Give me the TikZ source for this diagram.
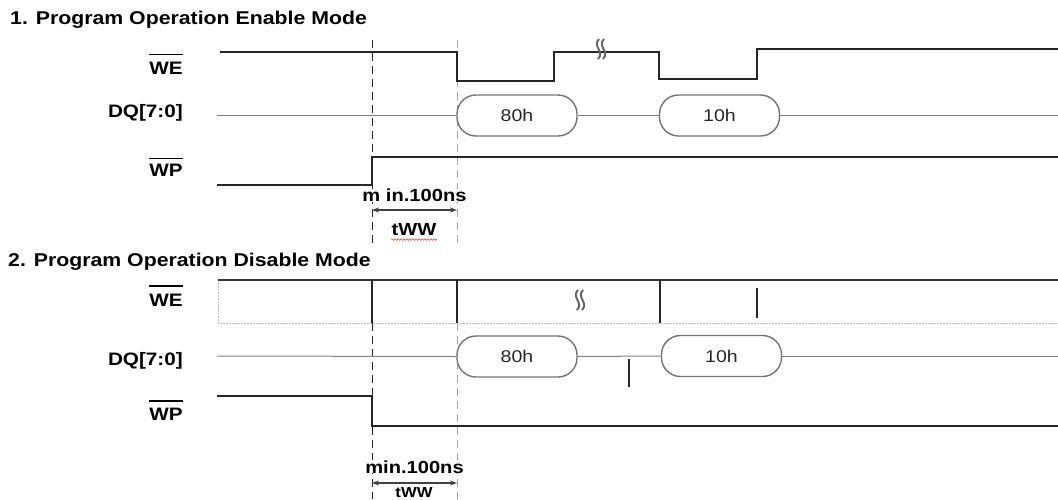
\documentclass[tikz,border=0pt]{standalone}
\usepackage{fontspec}
\setmainfont{Liberation Sans}[FakeStretch=1.15]
\usetikzlibrary{arrows.meta,decorations.pathmorphing}
\newlength\ovlw
\newcommand\ovl[2][19pt]{\settowidth\ovlw{#2}\rlap{\rule[#1]{\ovlw}{1.3pt}}#2}
\begin{document}
\begin{tikzpicture}[x=1pt,y=-1pt,
  sig/.style={line width=1.8pt, draw=black!85, line join=miter},
  dq/.style={line width=1pt, draw=black!50},
  pill/.style={draw=black!55, line width=1.4pt, rounded corners=19pt, minimum width=120pt, minimum height=41pt, font=\fontsize{17}{17}\selectfont, inner sep=0pt, text=black!85},
  lab/.style={font=\bfseries\fontsize{18}{18}\selectfont, anchor=base east, inner sep=0pt},
  ttl/.style={font=\bfseries\fontsize{18.5}{18.5}\selectfont, anchor=base west, inner sep=0pt},
  dsh/.style={dash pattern=on 8pt off 5pt, line width=1pt, draw=black!85},
  dshg/.style={dash pattern=on 8pt off 5pt, line width=1pt, draw=black!35},
  meas/.style={font=\bfseries\fontsize{17.5}{17.5}\selectfont, inner sep=0pt, anchor=base},
  dimarr/.style={{Stealth[length=7pt,width=5pt]}-{Stealth[length=7pt,width=5pt]}, line width=1.2pt, draw=black!75},
  tick/.style={line width=1.2pt, draw=black!85},
  box/.style={line width=1pt, draw=black!25, dash pattern=on 2pt off 1pt},
  brk/.pic={\draw[line width=2pt, draw=black!60] (-2,-10) .. controls (-9,-3) and (4,3) .. (-3,10);
            \draw[line width=2pt, draw=black!60] (3,-10) .. controls (-4,-3) and (9,3) .. (2,10);}
]
\useasboundingbox (0,0) rectangle (1058,499);

% ---------- Section 1 ----------
\node[ttl] (t1) at (10,24) {1. Program Operation Enable Mode};
\node[lab] (we1) at (183,74) {\ovl{WE}};
\node[lab] (dq1) at (183,117) {DQ[7:0]};
\node[lab] (wp1) at (183,176.5) {\ovl[17.5pt]{WP}};

\coordinate (d1a) at (372,40); \coordinate (d1b) at (372,247);
\coordinate (d2a) at (457,40); \coordinate (d2b) at (457,247);
\draw[dsh] (d1a) -- (d1b);
\draw[dshg] (d2a) -- (d2b);

\draw[sig] (220,52) -- (457,52) -- (457,81) -- (554,81) -- (554,52) -- (659,52) -- (659,79) -- (757,79) -- (757,49) -- (1058,49);
\draw[line width=2.6pt, draw=black!85] (592,52) -- (632,52);
\pic at (601,49) {brk};

\node[pill] (a1) at (517,115.5) {80h};
\node[pill] (b1) at (719.5,115.5) {10h};
\coordinate (dq1s) at (217,115.5);
\coordinate (dq1e) at (1058,115.5);
\draw[dq] (dq1s) -- (a1.west);
\draw[dq] (a1.east) -- (b1.west);
\draw[dq] (b1.east) -- (dq1e);

\draw[sig] (217,185) -- (372,185) -- (372,157) -- (1058,157);

\node[meas, fill=white] (m1) at (414.5,201.5) {m in.100ns};
\coordinate (ar1a) at (372,210); \coordinate (ar1b) at (457,210);
\draw[dimarr] (ar1a) -- (ar1b);
\node[meas] (tw1) at (414,235) {tWW};
\draw[red!80, line width=0.6pt, decorate, decoration={snake, amplitude=0.8pt, segment length=3pt}] (391,239.5) -- (437,239.5);

% ---------- Section 2 ----------
\node[ttl] (t2) at (8,266.5) {2. Program Operation Disable Mode};
\node[lab] (we2) at (183,306.5) {\ovl[20pt]{WE}};
\node[lab] (dq2) at (183,365) {DQ[7:0]};
\node[lab] (wp2) at (183,420.5) {\ovl[19pt]{WP}};

\draw[box] (218,280) -- (218,323) -- (1058,323);
\draw[line width=1.4pt, draw=black!80] (218,280) -- (1058,280);
\draw[tick] (372,280) -- (372,323);
\draw[tick] (457,280) -- (457,323);
\draw[tick] (660,280) -- (660,323);
\draw[line width=1.5pt, draw=black!85] (757,288) -- (757,318);
\pic at (580,300) {brk};

\coordinate (d3a) at (372,323); \coordinate (d3b) at (372,499);
\coordinate (d4a) at (457,323); \coordinate (d4b) at (457,499);
\draw[dsh] (d3a) -- (d3b);
\draw[dshg] (d4a) -- (d4b);

\node[pill] (a2) at (517,356.5) {80h};
\node[pill] (b2) at (721.5,356) {10h};
\coordinate (dq2s) at (217,356);
\coordinate (dq2e) at (1058,356);
\draw[dq] (dq2s) -- (a2.west);
\draw[dq] (a2.east) -- (b2.west);
\draw[dq] (b2.east) -- (dq2e);
\draw[line width=1.4pt, draw=black!85] (629,359) -- (629,387);

\draw[sig] (217,396) -- (372,396) -- (372,426) -- (1058,426);

\node[meas, fill=white] (m2) at (414.5,473) {min.100ns};
\coordinate (ar2a) at (372,483); \coordinate (ar2b) at (457,483);
\draw[dimarr] (ar2a) -- (ar2b);
\node[meas, font=\bfseries\fontsize{14.5}{14.5}\selectfont] (tw2) at (414,497.5) {tWW};
\end{tikzpicture}
\end{document}
